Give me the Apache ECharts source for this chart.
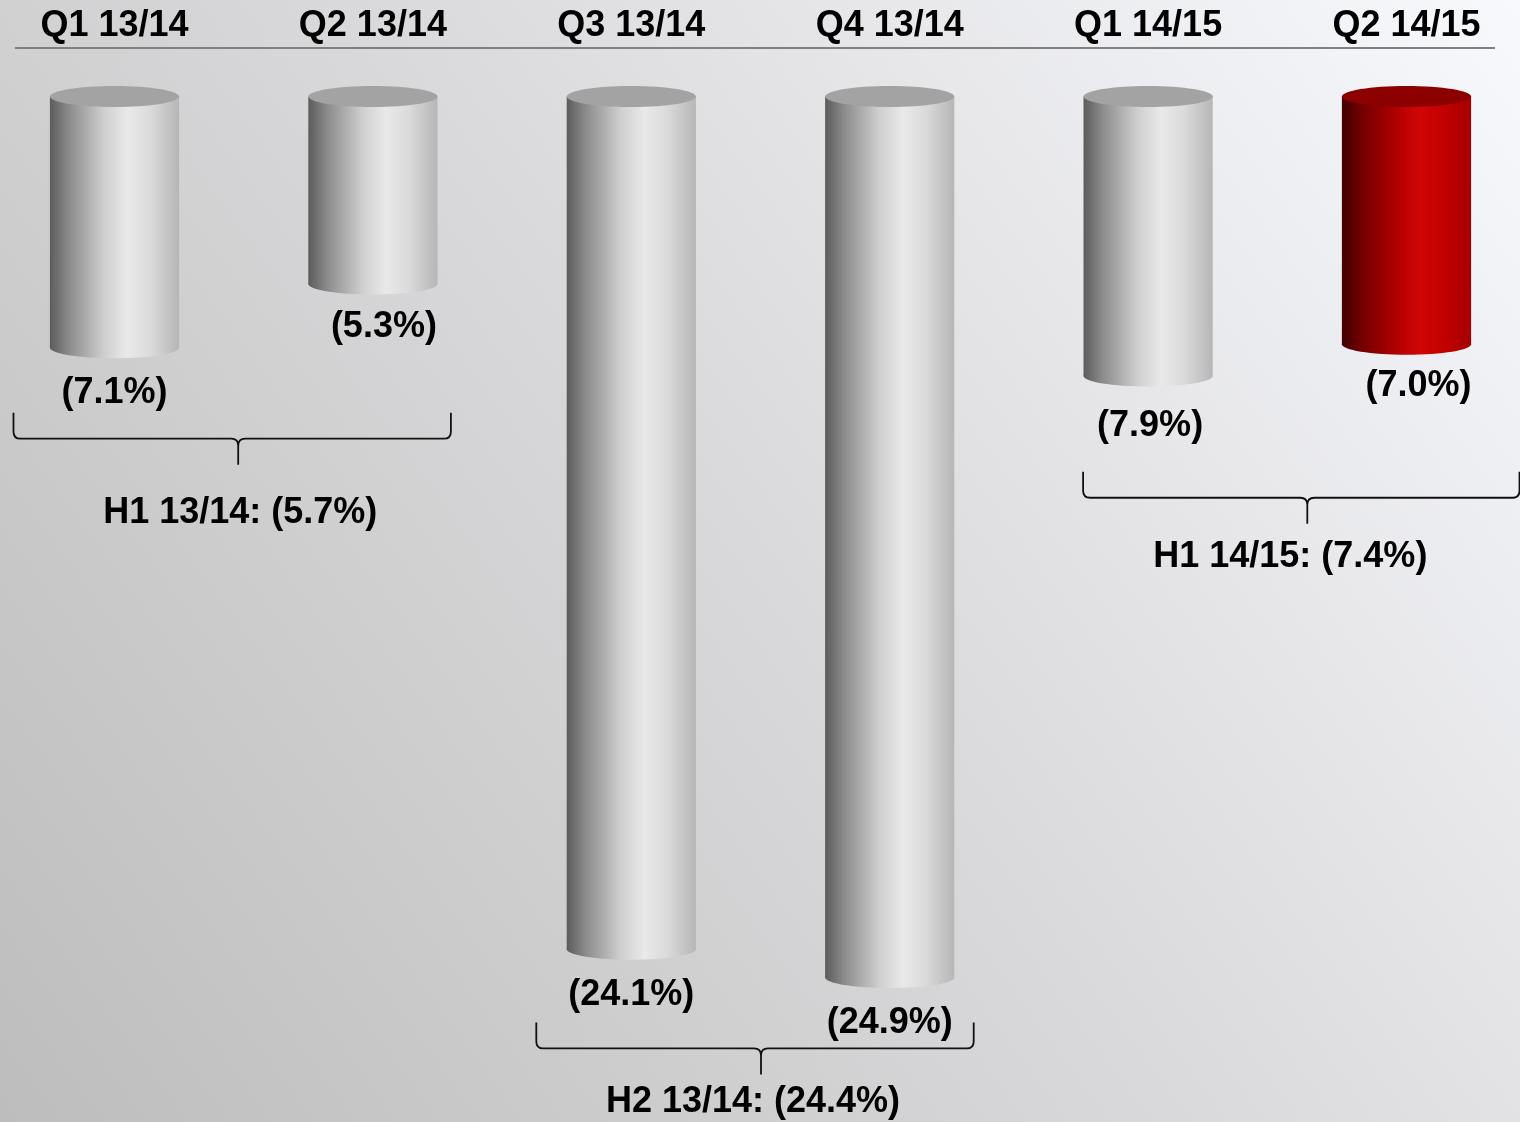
<!DOCTYPE html>
<html>
<head>
<meta charset="utf-8">
<script src="https://cdn.jsdelivr.net/npm/echarts@6/dist/echarts.min.js"></script>
<style>
  html, body { margin: 0; padding: 0; }
  #chart { width: 1520px; height: 1122px; }
</style>
</head>
<body>
<div id="chart"></div>
<script>
// ---- data ----
const categories = ['Q1 13/14', 'Q2 13/14', 'Q3 13/14', 'Q4 13/14', 'Q1 14/15', 'Q2 14/15'];
const changes = [-7.1, -5.3, -24.1, -24.9, -7.9, -7.0];
const highlightIndex = 5;
const halfNames = ['H1 13/14', 'H2 13/14', 'H1 14/15'];
const halfChanges = [-5.7, -24.4, -7.4];
const halfSpans = [[0, 1], [2, 3], [4, 5]];

// ---- layout (not data) ----
const labelNudge = [[0, 0], [11, -2], [0, 0], [0, 0], [2, 5], [12, -4]];
const braceLayout = [
  { left: 101, right: 78, level: -9.67, labelDx: 2, labelDy: 74 },
  { left: 95, right: 84, level: -26.9, labelDx: -8, labelDy: 54 },
  { left: 65, right: 113, level: -11.34, labelDx: -17, labelDy: 59 }
];
const FONT = "'Liberation Sans', Arial, Helvetica, sans-serif";
const fmt = v => '(' + Math.abs(v).toFixed(1) + '%)';

const grayGrad = () => new echarts.graphic.LinearGradient(0, 0, 1, 0, [
  { offset: 0, color: '#5c5c5c' },
  { offset: 0.15, color: '#8c8c8c' },
  { offset: 0.42, color: '#cfcfcf' },
  { offset: 0.6, color: '#e9e9e9' },
  { offset: 0.78, color: '#dadada' },
  { offset: 1, color: '#b6b6b6' }
]);
const redGrad = () => new echarts.graphic.LinearGradient(0, 0, 1, 0, [
  { offset: 0, color: '#420000' },
  { offset: 0.18, color: '#7a0000' },
  { offset: 0.42, color: '#b00000' },
  { offset: 0.6, color: '#d20505' },
  { offset: 0.8, color: '#c00000' },
  { offset: 1, color: '#a60000' }
]);

const chart = echarts.init(document.getElementById('chart'), null, { renderer: 'canvas' });

const option = {
  animation: false,
  graphic: [
    {
      type: 'rect', z: -100, silent: true,
      shape: { x: 0, y: 0, width: 1520, height: 1122 },
      style: {
        fill: new echarts.graphic.LinearGradient(0, 1, 1, 0, [
          { offset: 0, color: '#bdbdbd' },
          { offset: 0.5, color: '#d9d9db' },
          { offset: 1, color: '#f8f9fd' }
        ])
      }
    },
    {
      type: 'line', z: 1, silent: true,
      shape: { x1: 15, y1: 48, x2: 1495, y2: 48 },
      style: { stroke: '#808080', lineWidth: 2 }
    }
  ],
  grid: { left: -14.7, right: -15.7, top: 48, bottom: 17, containLabel: false, outerBoundsMode: 'none' },
  xAxis: {
    type: 'category',
    position: 'top',
    data: categories,
    axisLine: { show: false },
    axisTick: { show: false },
    splitLine: { show: false },
    axisLabel: {
      margin: 4,
      fontSize: 36,
      fontWeight: 'bold',
      color: '#000',
      fontFamily: FONT,
      interval: 0
    }
  },
  yAxis: { type: 'value', min: -28.5, max: 1.37, show: false },
  series: [
    {
      type: 'custom',
      name: 'change',
      data: changes.map((v, i) => [i, v]),
      encode: { x: 0, y: 1 },
      renderItem: function (params, api) {
        const i = api.value(0);
        const v = api.value(1);
        const top = api.coord([i, 0]);
        const bot = api.coord([i, v]);
        const w = api.size([1, 0])[0] * 0.5;
        const rx = w / 2, ry = 10.5;
        const cx = top[0];
        const isRed = i === highlightIndex;
        const grad = isRed ? redGrad() : grayGrad();
        const nudge = labelNudge[i] || [0, 0];
        return {
          type: 'group',
          children: [
            { type: 'rect', shape: { x: cx - rx, y: top[1], width: w, height: bot[1] - top[1] }, style: { fill: grad } },
            { type: 'ellipse', shape: { cx: cx, cy: bot[1], rx: rx, ry: ry }, style: { fill: grad } },
            { type: 'ellipse', shape: { cx: cx, cy: top[1], rx: rx, ry: ry }, style: { fill: isRed ? '#8c0000' : '#a3a3a3' } },
            {
              type: 'text',
              x: cx + nudge[0],
              y: bot[1] + ry + 35 + nudge[1],
              style: {
                text: fmt(v), x: 0, y: 0,
                align: 'center', verticalAlign: 'middle',
                fontSize: 36, fontWeight: 'bold', fontFamily: FONT, fill: '#000'
              }
            }
          ]
        };
      }
    },
    {
      type: 'custom',
      name: 'half',
      data: halfChanges.map((v, k) => [halfSpans[k][0], v, k]),
      encode: { x: 0, y: 1 },
      renderItem: function (params, api) {
        const k = api.value(2);
        const L = braceLayout[k];
        const span = halfSpans[k];
        const yLine = api.coord([span[0], L.level])[1];
        const xl = api.coord([span[0], 0])[0] - L.left;
        const xr = api.coord([span[1], 0])[0] + L.right;
        const cx = (xl + xr) / 2 + 6;
        const d = 26, r = 7;
        const p = [
          'M', xl, yLine - d,
          'L', xl, yLine - r,
          'Q', xl, yLine, xl + r, yLine,
          'L', cx - r, yLine,
          'Q', cx, yLine, cx, yLine + r,
          'L', cx, yLine + d,
          'M', cx, yLine + r,
          'Q', cx, yLine, cx + r, yLine,
          'L', xr - r, yLine,
          'Q', xr, yLine, xr, yLine - r,
          'L', xr, yLine - d
        ].join(' ');
        return {
          type: 'group',
          children: [
            { type: 'path', shape: { pathData: p }, style: { fill: 'none', stroke: '#111', lineWidth: 1.8 } },
            {
              type: 'text',
              x: cx + L.labelDx,
              y: yLine + L.labelDy,
              style: {
                text: halfNames[k] + ': ' + fmt(api.value(1)), x: 0, y: 0,
                align: 'center', verticalAlign: 'middle',
                fontSize: 36, fontWeight: 'bold', fontFamily: FONT, fill: '#000'
              }
            }
          ]
        };
      }
    }
  ]
};

chart.setOption(option);
</script>
</body>
</html>
